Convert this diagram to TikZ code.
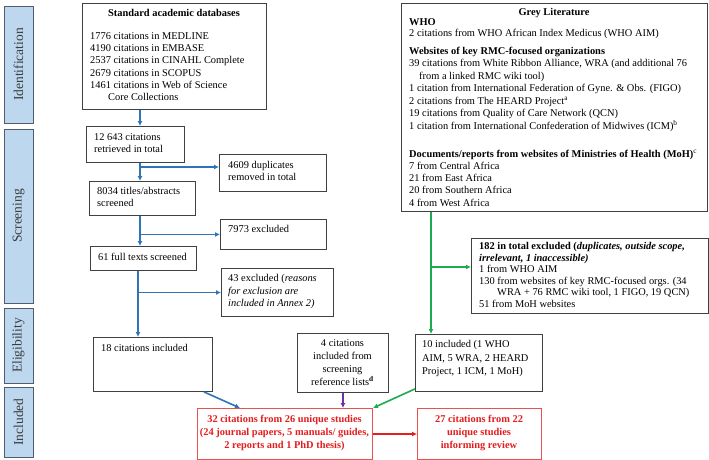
\documentclass[tikz,border=0pt]{standalone}
\usepackage{fontspec}
\setmainfont{Liberation Serif}
\usetikzlibrary{arrows.meta,calc}
\definecolor{boxgray}{RGB}{64,64,64}
\definecolor{sidefill}{RGB}{189,215,238}
\definecolor{sidedraw}{RGB}{80,92,112}
\definecolor{sidetext}{RGB}{60,60,60}
\definecolor{cblue}{RGB}{46,117,182}
\definecolor{cgreen}{RGB}{30,170,80}
\definecolor{cpurple}{RGB}{112,48,160}
\definecolor{cred}{RGB}{228,30,30}
\definecolor{credbox}{RGB}{235,80,80}
\tikzset{
  box/.style={draw=boxgray, line width=0.9pt, anchor=north west, inner sep=0pt, minimum width=#1},
  redbox/.style={draw=credbox, line width=1pt, anchor=north west, inner sep=0pt, minimum width=#1},
  side/.style={draw=sidedraw, fill=sidefill, line width=0.9pt, rotate=90, inner sep=0pt,
    text=sidetext, font=\fontsize{13.5}{14}\selectfont},
  txt/.style={anchor=base west, inner sep=0pt, align=left, font=\fontsize{10.4}{12.2}\selectfont},
  ctxt/.style={anchor=base, inner sep=0pt, align=center, font=\fontsize{10.4}{12.2}\selectfont},
  barrow/.style={draw=cblue, line width=1.6pt, -{Latex[length=5pt,width=5pt,fill=cblue]}},
  garrow/.style={draw=cgreen, line width=1.6pt, -{Latex[length=5pt,width=5pt,fill=cgreen]}},
  parrow/.style={draw=cpurple, line width=1.6pt, -{Latex[length=5pt,width=5pt,fill=cpurple]}},
  rarrow/.style={draw=cred, line width=1.6pt, -{Latex[length=5pt,width=5pt,fill=cred]}},
}
\begin{document}
\begin{tikzpicture}[x=1pt,y=-1pt]
\useasboundingbox (0,0) rectangle (709,460);
\fill[white] (0,0) rectangle (709,460);

% side labels
\node[side, minimum width=117pt, minimum height=29pt] (ident) at (18.5,64.5) {Identification};
\node[side, minimum width=174pt, minimum height=29pt] (screen) at (18.5,216) {Screening};
\node[side, minimum width=75pt, minimum height=29pt] (elig) at (18.5,345.5) {Eligibility};
\node[side, minimum width=70pt, minimum height=29pt] (incl) at (18.5,422) {Included};

% boxes
\node[box=184pt, minimum height=106pt] (db) at (82,3) {};
\node[box=98pt, minimum height=36pt] (ret) at (86,126) {};
\node[box=107pt, minimum height=37pt] (dup) at (219,154) {};
\node[box=106pt, minimum height=34pt] (scr) at (89,181) {};
\node[box=106pt, minimum height=30pt] (exc1) at (220,219) {};
\node[box=106pt, minimum height=24pt] (full) at (90,246) {};
\node[box=112pt, minimum height=48pt] (exc2) at (221,268) {};
\node[box=119pt, minimum height=54pt] (inc18) at (93,337) {};
\node[box=91pt, minimum height=59pt] (ref4) at (297,333) {};
\node[box=306pt, minimum height=208pt] (grey) at (401,3) {};
\node[box=237pt, minimum height=75pt] (exc3) at (471,238) {};
\node[box=127pt, minimum height=57pt] (inc10) at (415,334) {};
\node[redbox=175pt, minimum height=51pt] (tot) at (197,408) {};
\node[redbox=124pt, minimum height=51pt] (fin) at (417,408) {};

% texts (base anchor = baseline of the last line)
\node[ctxt] (dbh) at (174,16.5) {\textbf{Standard academic databases}};
\node[txt] (dbt) at (90,100.5) {1776 citations in MEDLINE\\4190 citations in EMBASE\\2537 citations in CINAHL Complete\\2679 citations in SCOPUS\\1461 citations in Web of Science\\\hspace*{18pt}Core Collections};
\node[txt] (rett) at (94,152.7) {12 643 citations\\retrieved in total};
\node[txt] (dupt) at (228,180.7) {4609 duplicates\\removed in total};
\node[txt] (scrt) at (97,206.7) {8034 titles/abstracts\\screened};
\node[txt] (exc1t) at (228,232.5) {7973 excluded};
\node[txt] (fullt) at (98,260.5) {61 full texts screened};
\node[txt, font=\fontsize{10.4}{12.5}\selectfont] (exc2t) at (228,306.5) {43 excluded (\textit{reasons}\\\textit{for exclusion are}\\\textit{included in Annex 2)}};
\node[txt] (inc18t) at (101,351.5) {18 citations included};
\node[ctxt, font=\fontsize{10.4}{13}\selectfont] (ref4t) at (342.5,385.5) {4 citations\\included from\\screening\\reference lists\textsuperscript{\textbf{d}}};

\node[ctxt] (greyh) at (554,15.5) {\textbf{Grey Literature}};
\node[txt, font=\fontsize{10.4}{11}\selectfont] (greyw) at (409,37) {\textbf{WHO}\\2 citations from WHO African Index Medicus (WHO AIM)};
\node[txt] (greyk) at (409,55) {\textbf{Websites of key RMC-focused organizations}};
\node[txt, font=\fontsize{10.4}{12.5}\selectfont] (greyo) at (409,129) {39 citations from White Ribbon Alliance, WRA (and additional 76\\\hspace*{10pt}from a linked RMC wiki tool)\\1 citation from International Federation of Gyne. \& Obs. (FIGO)\\2 citations from The HEARD Project\textsuperscript{a}\\19 citations from Quality of Care Network (QCN)\\1 citation from International Confederation of Midwives (ICM)\textsuperscript{b}};
\node[txt] (greym) at (409,157) {\textbf{Documents/reports from websites of Ministries of Health (MoH)}\textsuperscript{c}};
\node[txt] (greyr) at (409,206.1) {7 from Central Africa\\21 from East Africa\\20 from Southern Africa\\4 from West Africa};

\node[txt, font=\fontsize{10.4}{11.5}\selectfont] (exc3t) at (479,307) {\textbf{182 in total excluded (\textit{duplicates, outside scope,}}\\\textbf{\textit{irrelevant, 1 inaccessible)}}\\1 from WHO AIM\\130 from websites of key RMC-focused orgs. (34\\\hspace*{18pt}WRA + 76 RMC wiki tool, 1 FIGO, 19 QCN)\\51 from MoH websites};
\node[txt, font=\fontsize{10.4}{13.5}\selectfont] (inc10t) at (422,374.5) {10 included (1 WHO\\AIM, 5 WRA, 2 HEARD\\Project, 1 ICM, 1 MoH)};
\node[ctxt, text=cred, font=\fontsize{10.4}{12.8}\selectfont\bfseries] (tott) at (284.5,448.1) {32 citations from 26 unique studies\\(24 journal papers, 5 manuals/ guides,\\2 reports and 1 PhD thesis)};
\node[ctxt, text=cred, font=\fontsize{10.4}{12.8}\selectfont\bfseries] (fint) at (479,448.1) {27 citations from 22\\unique studies\\informing review};

% connectors
\coordinate (s1) at (140,0);
\coordinate (s2) at (138,0);
\coordinate (g) at (431,0);
\coordinate (b1) at ([yshift=-13pt]dup.north west);
\coordinate (b2) at ([yshift=-29pt]exc3.north west);
\draw[barrow] (s1 |- db.south) -- (s1 |- ret.north);
\draw[barrow] (s1 |- ret.south) -- (s1 |- scr.north);
\draw[barrow] (s1 |- b1) -- (b1);
\draw[barrow] (s1 |- scr.south) -- (s1 |- full.north);
\draw[barrow] (s1 |- exc1.west) -- (exc1.west);
\draw[barrow] (s2 |- full.south) -- (s2 |- inc18.north);
\draw[barrow] (s2 |- exc2.west) -- (exc2.west);
\draw[barrow] ([xshift=-9pt]inc18.south east) -- ([xshift=43pt]tot.north west);
\draw[parrow] (ref4.south) -- (ref4.south |- tot.north);
\draw[garrow] (g |- grey.south) -- (g |- inc10.north);
\draw[garrow] (g |- b2) -- (b2);
\draw[garrow] ([yshift=3pt]inc10.south west) -- (tot.north east);
\draw[rarrow] (tot.east) -- (fin.west);
\end{tikzpicture}
\end{document}
